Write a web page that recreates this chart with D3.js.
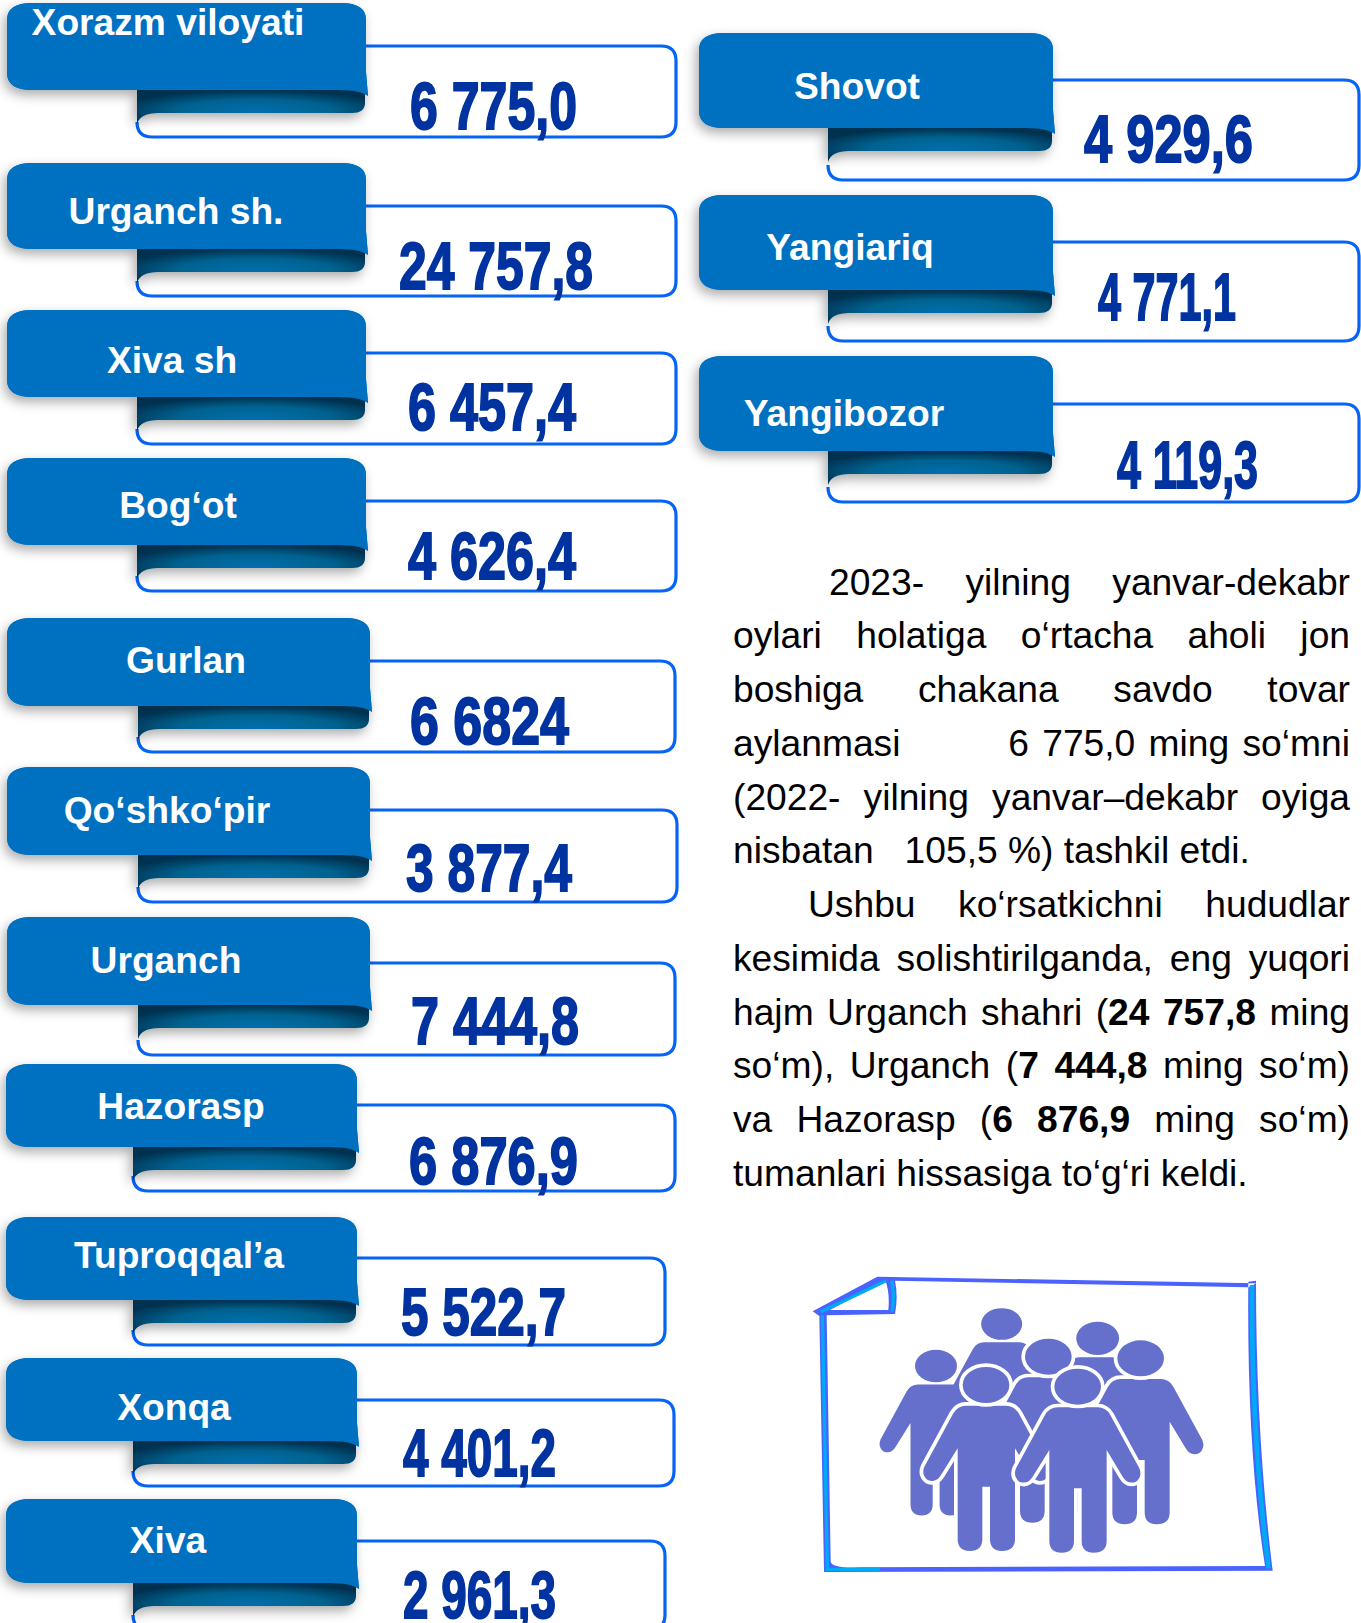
<!DOCTYPE html>
<html>
<head>
<meta charset="utf-8">
<script src="https://cdn.jsdelivr.net/npm/d3@7"></script>
<style>
  html, body { margin: 0; background: #fff; }
  svg { display: block; }
</style>
</head>
<body>
<div id="chart"></div>
<script>
const regions = ['Xorazm viloyati', 'Urganch sh.', 'Xiva sh', 'Bog‘ot', 'Gurlan', 'Qo‘shko‘pir', 'Urganch',
  'Hazorasp', 'Tuproqqal’a', 'Xonqa', 'Xiva', 'Shovot', 'Yangiariq', 'Yangibozor'];
const values = ['6 775,0', '24 757,8', '6 457,4', '4 626,4', '6 6824', '3 877,4', '7 444,8',
  '6 876,9', '5 522,7', '4 401,2', '2 961,3', '4 929,6', '4 771,1', '4 119,3'];
// ** marks bold, || marks the wide gap that takes up the spare room of a line
const paragraphLines = [
  '2023- yilning yanvar-dekabr',
  'oylari holatiga o‘rtacha aholi jon',
  'boshiga chakana savdo tovar',
  'aylanmasi||6 775,0 ming so‘mni',
  '(2022- yilning yanvar–dekabr oyiga',
  'nisbatan\u00a0\u00a0\u00a0105,5 %) tashkil etdi.',
  'Ushbu ko‘rsatkichni hududlar',
  'kesimida solishtirilganda, eng yuqori',
  'hajm Urganch shahri (**24 757,8** ming',
  'so‘m), Urganch (**7 444,8** ming so‘m)',
  'va Hazorasp (**6 876,9** ming so‘m)',
  'tumanlari hissasiga to‘g‘ri keldi.'
];

// card geometry: [tabLeft, tabRight, tabTop, tabBottom, boxTop, boxBottom, boxRight, foldLeft]
const cardBoxes = [
  [7, 366, 3, 90, 46, 137, 676, 137],
  [7, 366, 163, 249, 206, 296, 676, 137],
  [7, 366, 310, 397, 353, 444, 676, 137],
  [7, 366, 458, 545, 501, 591, 676, 137],
  [7, 370, 618, 706, 661, 752, 675, 138],
  [7, 370, 767, 855, 810, 902, 677, 138],
  [7, 370, 917, 1005, 963, 1055, 675, 138],
  [6, 357, 1064, 1147, 1105, 1191, 675, 133],
  [6, 357, 1217, 1300, 1258, 1345, 665, 133],
  [6, 357, 1358, 1441, 1400, 1486, 674, 133],
  [6, 357, 1499, 1583, 1541, 1630, 665, 133],
  [699, 1053, 33, 128, 80, 180, 1359, 828],
  [699, 1053, 195, 290, 242, 341, 1359, 828],
  [699, 1053, 356, 451, 404, 502, 1359, 828]
];
// [labelCentre, labelBaseline, valueLeft, valueRight, valueBaseline]
const cardTexts = [
  [168, 35, 410, 577, 129],
  [176, 224, 399, 593, 289],
  [172, 373, 408, 576, 430],
  [178, 518, 408, 576, 579],
  [186, 673, 410, 569, 744],
  [167, 823, 406, 572, 891],
  [166, 973, 411, 579, 1044],
  [181, 1119, 409, 578, 1184],
  [179, 1268, 401, 566, 1335],
  [174, 1420, 403, 556, 1476],
  [168, 1553, 403, 556, 1618],
  [857, 99, 1084, 1253, 162],
  [850, 260, 1098, 1236, 320],
  [844, 426, 1117, 1258, 488]
];

const width = 1361;
const height = 1623;

const boxScale = d3.scaleOrdinal().domain(regions).range(cardBoxes);
const textScale = d3.scaleOrdinal().domain(regions).range(cardTexts);

const svg = d3.select('#chart').append('svg')
  .attr('width', width)
  .attr('height', height);

const defs = svg.append('defs');

const shadow = defs.append('filter')
  .attr('id', 'ribbon-shadow')
  .attr('x', '-15%').attr('y', '-30%')
  .attr('width', '130%').attr('height', '170%');
shadow.append('feDropShadow')
  .attr('dx', -3).attr('dy', 5)
  .attr('stdDeviation', 6)
  .attr('flood-color', '#000')
  .attr('flood-opacity', 0.33);

const foldGradient = defs.append('radialGradient')
  .attr('id', 'fold-gradient')
  .attr('cx', 0.52).attr('cy', 0.62).attr('r', 0.62);
foldGradient.append('stop').attr('offset', 0).attr('stop-color', '#006fae');
foldGradient.append('stop').attr('offset', 0.55).attr('stop-color', '#02628f');
foldGradient.append('stop').attr('offset', 1).attr('stop-color', '#02304f');

function boxPath([, tabRight, , , boxTop, boxBottom, boxRight, foldLeft]) {
  const r = 15;
  const p = d3.path();
  p.moveTo(tabRight, boxTop);
  p.lineTo(boxRight - r, boxTop);
  p.quadraticCurveTo(boxRight, boxTop, boxRight, boxTop + r);
  p.lineTo(boxRight, boxBottom - r);
  p.quadraticCurveTo(boxRight, boxBottom, boxRight - r, boxBottom);
  p.lineTo(foldLeft + r, boxBottom);
  p.quadraticCurveTo(foldLeft, boxBottom, foldLeft, boxBottom - r);
  return p.toString();
}

function foldPath([, tabRight, , tabBottom, , , , foldLeft]) {
  const foldBottom = tabBottom + 23;
  const p = d3.path();
  p.moveTo(foldLeft, tabBottom);
  p.lineTo(tabRight - 1, tabBottom);
  p.lineTo(tabRight - 1, foldBottom - 10);
  p.quadraticCurveTo(tabRight - 1, foldBottom, tabRight - 14, foldBottom);
  p.lineTo(foldLeft + 22, foldBottom);
  p.quadraticCurveTo(foldLeft + 3, foldBottom, foldLeft, foldBottom + 11);
  p.closePath();
  return p.toString();
}

function tabPath([tabLeft, tabRight, tabTop, tabBottom]) {
  const rx = 25;
  const ry = 17;
  const p = d3.path();
  p.moveTo(tabLeft + rx, tabTop);
  p.lineTo(tabRight - rx, tabTop);
  p.quadraticCurveTo(tabRight, tabTop, tabRight, tabTop + ry);
  p.lineTo(tabRight, tabBottom - 18);
  p.lineTo(tabRight + 2, tabBottom + 6);
  p.quadraticCurveTo(tabRight - 6, tabBottom, tabRight - 28, tabBottom);
  p.lineTo(tabLeft + rx, tabBottom);
  p.quadraticCurveTo(tabLeft, tabBottom, tabLeft, tabBottom - ry);
  p.lineTo(tabLeft, tabTop + ry);
  p.quadraticCurveTo(tabLeft, tabTop, tabLeft + rx, tabTop);
  p.closePath();
  return p.toString();
}

const cards = svg.append('g')
  .selectAll('g')
  .data(regions.map((region, i) => ({ region, value: values[i] })))
  .join('g');

cards.append('path')
  .attr('d', d => boxPath(boxScale(d.region)))
  .attr('fill', 'none')
  .attr('stroke', '#0563f5')
  .attr('stroke-width', 3.2);

// the tab's shadow goes under the fold, so the tab is drawn twice
cards.append('path')
  .attr('d', d => tabPath(boxScale(d.region)))
  .attr('fill', '#0070c0')
  .attr('filter', 'url(#ribbon-shadow)');

cards.append('path')
  .attr('d', d => foldPath(boxScale(d.region)))
  .attr('fill', 'url(#fold-gradient)')
  .attr('filter', 'url(#ribbon-shadow)');

cards.append('path')
  .attr('d', d => tabPath(boxScale(d.region)))
  .attr('fill', '#0070c0');

cards.append('text')
  .attr('x', d => textScale(d.region)[0])
  .attr('y', d => textScale(d.region)[1])
  .attr('text-anchor', 'middle')
  .attr('font-family', 'Liberation Sans, Arial, sans-serif')
  .attr('font-weight', 'bold')
  .attr('font-size', 37.2)
  .attr('fill', '#fff')
  .text(d => d.region);

cards.append('text')
  .attr('x', d => textScale(d.region)[2])
  .attr('y', d => textScale(d.region)[4])
  .attr('textLength', d => textScale(d.region)[3] - textScale(d.region)[2])
  .attr('lengthAdjust', 'spacingAndGlyphs')
  .attr('font-family', 'Liberation Sans, Arial, sans-serif')
  .attr('font-weight', 'bold')
  .attr('font-size', 67)
  .attr('fill', '#0033a0')
  .attr('stroke', '#0033a0')
  .attr('stroke-width', 1.8)
  .text(d => d.value);

// paragraph, justified line by line with word-spacing
const textLeft = 733;
const textRight = 1350;
const lineTop = 594.5;
const lineStep = 53.75;
const indents = { 0: 96, 6: 75 };
const lastLines = [5, 11];

const paragraph = svg.append('g')
  .attr('font-family', 'Liberation Sans, Arial, sans-serif')
  .attr('font-size', 37.2)
  .attr('fill', '#000');

paragraph.selectAll('text')
  .data(paragraphLines)
  .join('text')
  .attr('x', (d, i) => textLeft + (indents[i] || 0))
  .attr('y', (d, i) => lineTop + i * lineStep)
  .each(function(d, i) {
    const line = d3.select(this);
    const plain = d.replace(/\*\*/g, '');
    const [before, after] = d.split('||');
    before.split('**').forEach((part, j) => {
      line.append('tspan').attr('font-weight', j % 2 ? 'bold' : null).text(part);
    });
    let wide = null;
    if (after) {
      wide = line.append('tspan').attr('word-spacing', 3).text(after);
    }
    if (lastLines.includes(i)) return;
    const room = textRight - textLeft - (indents[i] || 0) - this.getComputedTextLength();
    if (wide) {
      wide.attr('dx', room);
    } else {
      line.attr('word-spacing', room / (plain.split(' ').length - 1));
    }
  });

// people picture, drawn in the units of a 3x crop of the page
const personBody = 'M -60 62 L 60 62 Q 85 62 98 85 L 185 245 Q 195 270 175 285 Q 150 295 135 270 L 87 190 ' +
  'L 87 462 Q 87 498 48 498 Q 12 498 12 462 L 12 305 L -11 305 L -11 462 Q -11 498 -48 498 Q -85 498 -85 462 ' +
  'L -85 190 L -135 270 Q -150 295 -175 285 Q -195 270 -185 245 L -98 85 Q -85 62 -60 62 Z';
const peopleX = [665, 953, 468, 1082, 805, 618, 893];
const peopleY = [222, 265, 348, 325, 320, 405, 410];
const peopleSize = [0.88, 0.92, 0.9, 1, 1, 1, 1];
const peopleHalo = [0, 0, 0, 22, 22, 22, 22];

const icon = svg.append('g')
  .attr('transform', `translate(780,1250) scale(${1 / 3})`);

const sheetOutline = [
  'M 292 80 L 1428 100 L 1408 112 L 345 92 Q 355 140 345 192 L 140 196 L 152 935 Q 155 955 240 952 L 1455 948 ' +
    'Q 1400 600 1405 95 L 1428 92 Q 1428 560 1478 962 L 132 966 L 118 198 L 98 184 Z',
  'M 316 90 L 150 180 L 325 180 Q 330 130 316 90 Z'
];

icon.append('path')
  .attr('d', sheetOutline.join(' '))
  .attr('fill', '#4a62ff')
  .attr('fill-rule', 'evenodd');

icon.append('path')
  .attr('d', 'M 127 196 L 142 958 L 300 958 M 122 186 L 318 92 M 335 92 Q 345 140 336 186')
  .attr('fill', 'none')
  .attr('stroke', '#00aaf5')
  .attr('stroke-width', 10);

icon.append('path')
  .attr('d', 'M 1416 105 Q 1414 560 1466 955')
  .attr('fill', 'none')
  .attr('stroke', '#00aaf5')
  .attr('stroke-width', 14);

const person = icon.selectAll('g')
  .data(peopleX.map((x, i) => ({ x, y: peopleY[i], size: peopleSize[i], halo: peopleHalo[i] })))
  .join('g')
  .attr('transform', d => `translate(${d.x},${d.y}) scale(${d.size})`)
  .attr('fill', '#6570cc')
  .attr('stroke', d => d.halo ? '#fff' : 'none')
  .attr('stroke-width', d => d.halo)
  .style('paint-order', 'stroke');

person.append('path').attr('d', personBody);
person.append('ellipse').attr('rx', 70).attr('ry', 54);
</script>
</body>
</html>
